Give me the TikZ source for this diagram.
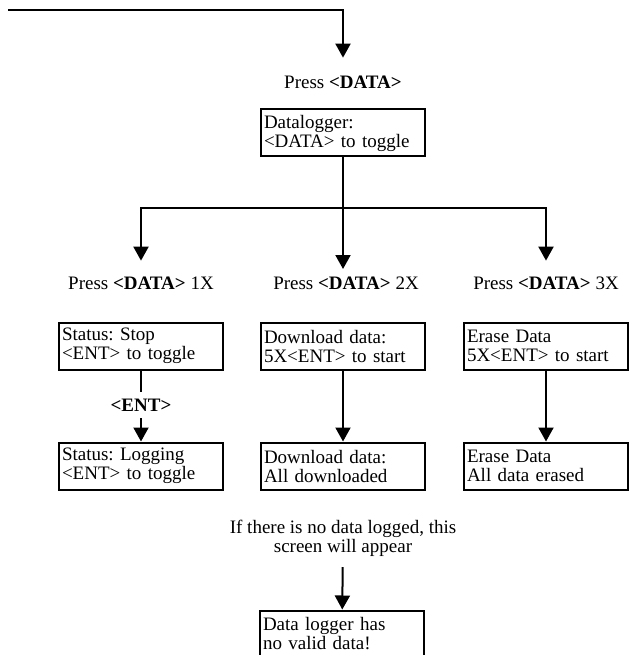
\documentclass[tikz,border=0pt]{standalone}
\usepackage{fontspec}
\setmainfont{Liberation Serif}
\usetikzlibrary{arrows.meta}
\tikzset{screen/.style={draw,line width=2pt,text width=158pt,inner xsep=3pt,inner ysep=2pt,minimum height=47pt,align=left}}
\tikzset{press/.style={inner sep=1pt}}
\tikzset{arr/.style={-{Triangle[width=15pt,length=14pt]}}}
\newcommand{\btn}[1]{\textbf{<#1>}}
\frenchspacing

\begin{document}
\begin{tikzpicture}[x=1pt,y=-1pt,line width=2pt,font=\fontsize{19}{19}\selectfont]
	    \useasboundingbox (0,0) rectangle (630,655);
	    \coordinate (in) at (8,10);
	    \node[press] (pdata) at (343,82) {Press \btn{DATA}};
	    \node[screen] (dlog) at (343,133) {Datalogger:\\<DATA> to toggle};
	    \coordinate (split) at (343,208);
	    \node[press] (p1) at (141,283) {Press \btn{DATA} 1X};
	    \node[press] (p2) at (346,283) {Press \btn{DATA} 2X};
	    \node[press] (p3) at (546,283) {Press \btn{DATA} 3X};
	    \node[screen] (stop) at (141,346) {Status: Stop\\<ENT> to toggle};
	    \node[screen] (dl) at (343,346) {Download data:\\5X<ENT> to start};
	    \node[screen] (er) at (546,346) {Erase Data\\5X<ENT> to start};
	    \node[inner ysep=6pt] (ent) at (141,405) {\btn{ENT}};
	    \node[screen] (log) at (141,466) {Status: Logging\\<ENT> to toggle};
	    \node[screen] (dldone) at (343,466) {Download data:\\All downloaded};
	    \node[screen] (erdone) at (546,466) {Erase Data\\All data erased};
	    \node[press,align=center] (note) at (343,538) {If there is no data logged, this\\screen will appear};
	    \node[screen] (nodata) at (342,634) {Data logger has\\no valid data!};
	    \draw[arr,shorten >=16pt] (in) -| (pdata);
	    \draw (dlog) -- (split);
	    \draw[arr,shorten >=14pt] (split) -| (p1);
	    \draw[arr,shorten >=14pt] (split) -- (split |- p2);
	    \draw[arr,shorten >=14pt] (split) -| (p3);
	    \draw (stop) -- (ent);
	    \draw[arr] (ent) -- (log);
	    \draw[arr] (dl) -- (dldone);
	    \draw[arr] (er) -- (erdone);
	    \draw[arr,shorten <=9pt] (note) -- (nodata);
        \end{tikzpicture}
\end{document}
